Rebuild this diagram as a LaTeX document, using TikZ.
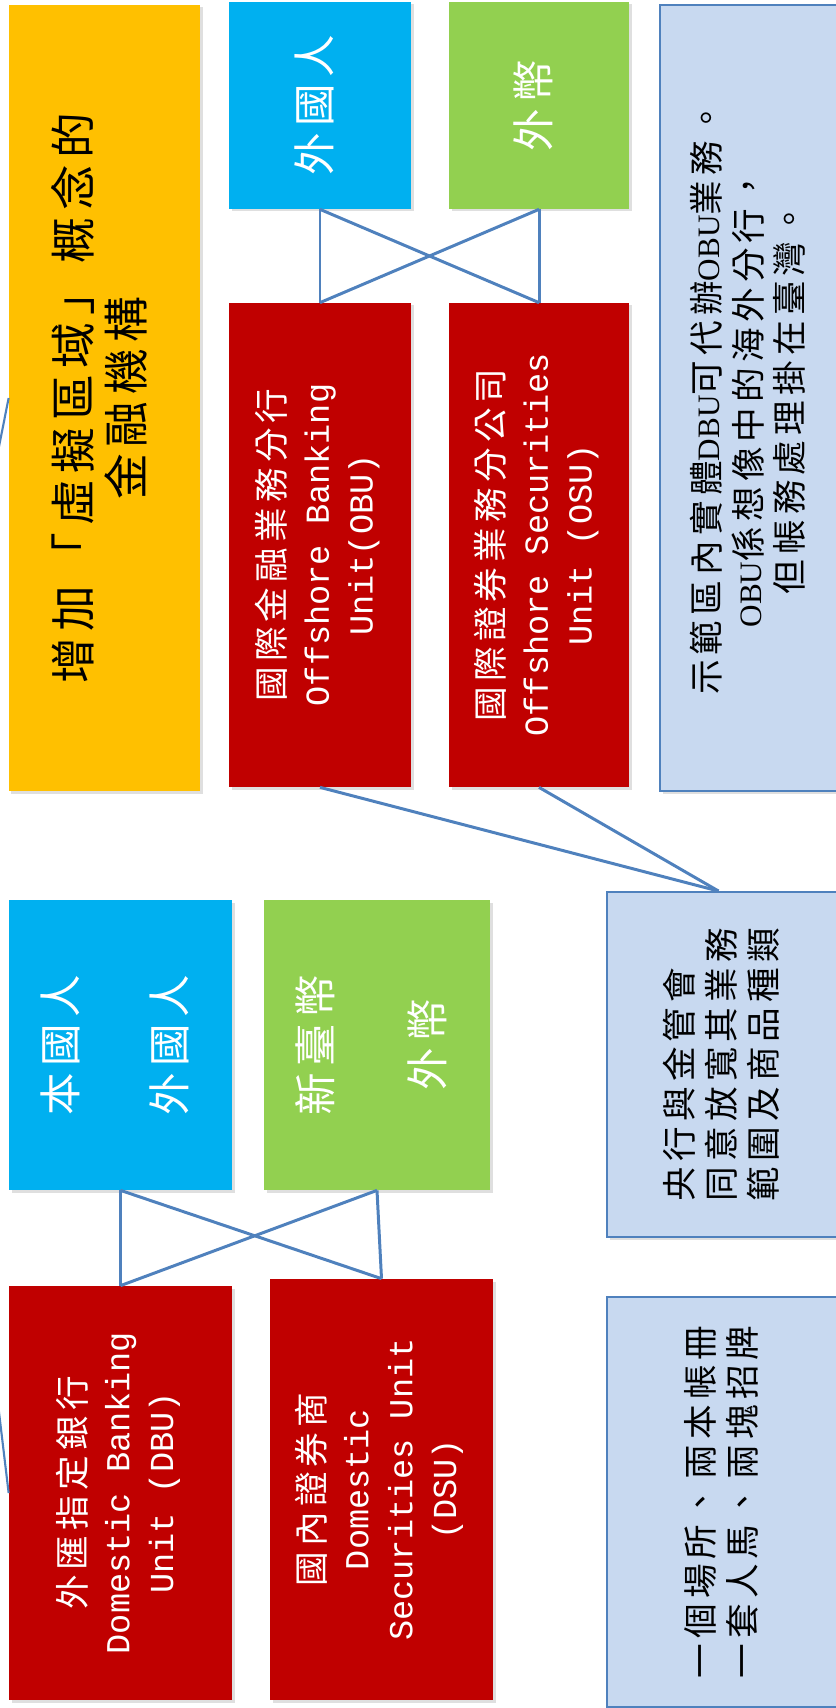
\documentclass[tikz,border=0pt]{standalone}
\usepackage{graphicx}
\usepackage{fontspec}
\setmainfont{Noto Sans CJK TC}[LetterSpace=15]
\newfontfamily\enmono{Liberation Mono}[Scale=0.97]
\newfontfamily\enserif{Liberation Serif}[Scale=0.9]
\usetikzlibrary{shadows}
\definecolor{unitred}{RGB}{192,0,0}
\definecolor{whoblue}{RGB}{0,176,240}
\definecolor{cashgreen}{RGB}{146,208,80}
\definecolor{zonegold}{RGB}{255,192,0}
\definecolor{notefill}{RGB}{200,217,240}
\definecolor{lineblue}{RGB}{79,129,189}
\newcommand{\vtext}[1]{\rotatebox{90}{\begin{tabular}{@{}c@{}}#1\end{tabular}}}
\newcommand{\vtextl}[1]{\rotatebox{90}{\begin{tabular}{@{}l@{}}#1\end{tabular}}}
\tikzset{
    box/.style={rectangle, inner sep=0pt, drop shadow={shadow xshift=0.05cm, shadow yshift=-0.05cm, opacity=0.25}},
    zone/.style={box, fill=zonegold, text=black, font=\fontsize{26}{27.8}\selectfont},
    who/.style={box, fill=whoblue, text=white, font=\fontsize{24.2}{27.8}\selectfont},
    cash/.style={box, fill=cashgreen, text=white, font=\fontsize{24.2}{27.8}\selectfont},
    unit/.style={box, fill=unitred, text=white, font=\fontsize{19.7}{25}\selectfont},
    note/.style={box, fill=notefill, draw=lineblue, line width=1.1pt, text=black, font=\fontsize{19.7}{23.5}\selectfont},
    link/.style={lineblue, line width=1.7pt},
}

\begin{document}
\begin{tikzpicture}
    \useasboundingbox (0,0) rectangle (16.72,-34.16);
    \clip (0,0) rectangle (16.72,-34.16);

    % offshore side
    \node[zone, minimum width=3.82cm, minimum height=15.72cm] (zone) at (2.09,-7.96) {\vtext{增加「虛擬區域」概念的\\金融機構}};
    \node[who, minimum width=3.64cm, minimum height=4.14cm] (forpers) at (6.40,-2.11) {\vtext{外國人}};
    \node[cash, minimum width=3.60cm, minimum height=4.14cm] (forcash) at (10.78,-2.11) {\vtext{外幣}};
    \node[unit, minimum width=3.64cm, minimum height=9.68cm] (obu) at (6.40,-10.90) {\vtext{國際金融業務分行\\{\enmono Offshore Banking}\\{\enmono Unit(OBU)}}};
    \node[unit, minimum width=3.60cm, minimum height=9.68cm] (osu) at (10.78,-10.90) {\vtext{國際證券業務分公司\\{\enmono Offshore Securities}\\{\enmono Unit (OSU)}}};
    \node[note, minimum width=3.70cm, minimum height=15.72cm] (offnote) at (15.05,-7.96) {\vtext{示範區內實體{\enserif DBU}可代辦{\enserif OBU}業務。\\{\enserif OBU}係想像中的海外分行，\\但帳務處理掛在臺灣。}};

    % domestic side
    \node[who, minimum width=4.46cm, minimum height=5.80cm] (people) at (2.41,-20.90) {\vtext{本國人\\[33pt]外國人}};
    \node[cash, minimum width=4.52cm, minimum height=5.80cm] (money) at (7.54,-20.90) {\vtext{新臺幣\\[35pt]外幣}};
    \node[unit, minimum width=4.46cm, minimum height=8.28cm] (dbu) at (2.41,-29.86) {\vtext{外匯指定銀行\\{\enmono Domestic Banking}\\{\enmono Unit (DBU)}}};
    \node[unit, minimum width=4.46cm, minimum height=8.42cm] (dsu) at (7.63,-29.79) {\vtext{國內證券商\\{\enmono Domestic}\\{\enmono Securities Unit}\\{\enmono (DSU)}}};
    \node[note, minimum width=4.76cm, minimum height=6.90cm] (talk) at (14.52,-21.29) {\vtextl{央行與金管會\\同意放寬其業務\\範圍及商品種類}};
    \node[note, minimum width=4.76cm, minimum height=8.20cm] (motto) at (14.52,-30.04) {\vtext{一個場所、兩本帳冊\\一套人馬、兩塊招牌}};

    % connectors
    \draw[link] (forpers.south) -- (obu.north);
    \draw[link] (forpers.south) -- (osu.north);
    \draw[link] (forcash.south) -- (obu.north);
    \draw[link] (forcash.south) -- (osu.north);
    \draw[link] (people.south) -- (dbu.north);
    \draw[link] (people.south) -- (dsu.north);
    \draw[link] (money.south) -- (dbu.north);
    \draw[link] (money.south) -- (dsu.north);
    \draw[link] (obu.south) -- ([xshift=-0.15cm]talk.north);
    \draw[link] (osu.south) -- ([xshift=-0.15cm]talk.north);
    \coordinate (bend) at (-1.46,-16.18);
    \draw[link, line width=1.2pt] (zone.west) -- (bend) -- (dbu.west);
\end{tikzpicture}
\end{document}
